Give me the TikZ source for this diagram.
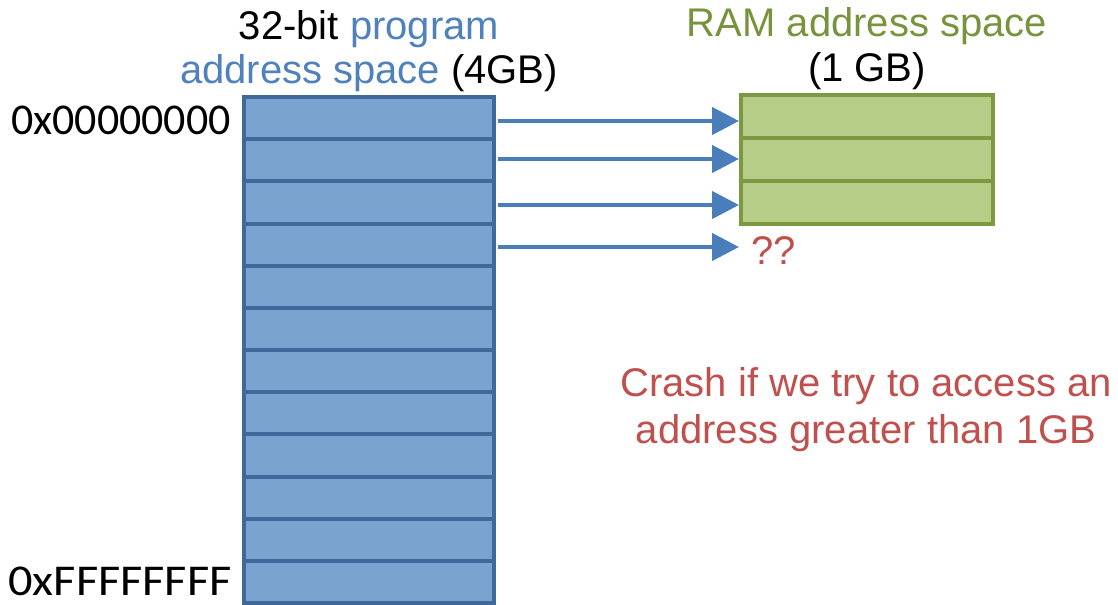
\documentclass[tikz,border=0pt]{standalone}
\usepackage{fontspec}
\usepackage{graphicx}
\setmainfont{Liberation Sans}
\newfontfamily\hexfont{Carlito}
\usetikzlibrary{arrows.meta}
\definecolor{cellfill}{HTML}{7BA3CF}
\definecolor{cellline}{HTML}{41689A}
\definecolor{ramfill}{HTML}{B6CD87}
\definecolor{ramline}{HTML}{7A9A42}
\definecolor{progblue}{HTML}{4F81BD}
\definecolor{ramgreen}{HTML}{77933C}
\definecolor{warnred}{HTML}{C0504D}
\definecolor{arrowblue}{HTML}{4A7EBB}
\tikzset{
  x=1bp, y=-1bp,
  lbl/.style={inner sep=0pt, anchor=base, font=\fontsize{40bp}{47bp}\selectfont},
  hexlbl/.style={inner sep=0pt, anchor=base east, font=\hexfont\fontsize{44bp}{50bp}\selectfont},
  progcell/.style={draw=cellline, fill=cellfill, line width=4bp},
  ramcell/.style={draw=ramline, fill=ramfill, line width=4bp},
  maparrow/.style={draw=arrowblue, line width=4.5bp, -{Triangle[length=27bp, width=27bp]}}
}
\begin{document}
\begin{tikzpicture}
\useasboundingbox (0,0) rectangle (1118,605);

% program address space: 12 slots
\foreach \i in {0,...,11} {
  \pgfmathsetmacro{\ytop}{97+42.17*\i}
  \pgfmathsetmacro{\ybot}{97+42.17*(\i+1)}
  \path[progcell] (244,\ytop) rectangle (494,\ybot);
}
\coordinate (p0) at (498,121);
\coordinate (p1) at (498,159);
\coordinate (p2) at (498,205);
\coordinate (p3) at (498,247);

% RAM address space: 3 slots
\foreach \i in {0,1,2} {
  \pgfmathsetmacro{\ytop}{95+43*\i}
  \pgfmathsetmacro{\ybot}{95+43*(\i+1)}
  \path[ramcell] (741,\ytop) rectangle (993,\ybot);
}
\coordinate (ramedge) at (739,0);

% mappings
\foreach \i in {0,...,3} {
  \draw[maparrow] (p\i) -- (p\i -| ramedge);
}

% titles
\node[lbl] (t1) at (369,40) {32-bit \textcolor{progblue}{program}};
\node[lbl] (t2) at (369,84) {\textcolor{progblue}{address space} (4GB)};
\node[lbl, text=ramgreen] (t3) at (867,37) {RAM address space};
\node[lbl] (t4) at (867,82) {(1 GB)};

% address labels
\node[hexlbl] (a0) at (231,135) {0x00000000};
\node[hexlbl] (a1) at (232,595) {\scalebox{1.1}[1]{0xFFFFFFFF}};

% unmapped target and note
\node[lbl, anchor=base west, text=warnred] (q) at (751,265) {??};
\node[lbl, text=warnred, align=center, anchor=north] (note) at (866,367)
  {Crash if we try to access an\\address greater than 1GB};
\end{tikzpicture}
\end{document}
